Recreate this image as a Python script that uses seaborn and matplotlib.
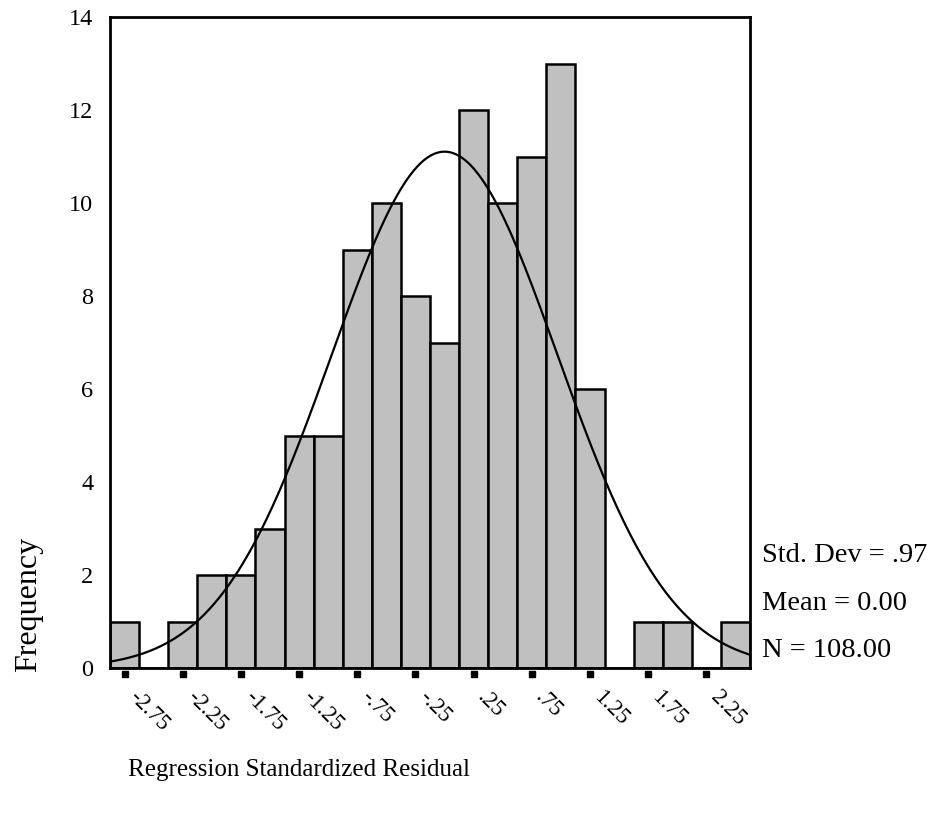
import numpy as np
import pandas as pd
import seaborn as sns
import matplotlib.pyplot as plt
import matplotlib.transforms as mtransforms

"""
histogram of regression standardized residuals (SPSS style)
"""
bin_centers = [-2.75, -2.5, -2.25, -2.0, -1.75, -1.5, -1.25, -1.0, -0.75, -0.5, -0.25,
               0.0, 0.25, 0.5, 0.75, 1.0, 1.25, 1.5, 1.75, 2.0, 2.25, 2.5]
counts = [1, 0, 1, 2, 2, 3, 5, 5, 9, 10, 8, 7, 12, 10, 11, 13, 6, 0, 1, 1, 0, 1]
tick_pos = [-2.75, -2.25, -1.75, -1.25, -0.75, -0.25, 0.25, 0.75, 1.25, 1.75, 2.25]
tick_labels = ['-2.75', '-2.25', '-1.75', '-1.25', '-.75', '-.25', '.25', '.75', '1.25', '1.75', '2.25']
y_ticks = [0, 2, 4, 6, 8, 10, 12, 14]

std_dev = 0.97
mean = 0.00
n_obs = 108
bin_width = 0.25

df = pd.DataFrame({'resid': bin_centers, 'freq': counts})

sns.set_style('white')
plt.rcParams['font.family'] = ['Liberation Serif', 'DejaVu Serif']
plt.rcParams['text.color'] = 'black'
plt.rcParams['xtick.color'] = 'black'
plt.rcParams['ytick.color'] = 'black'
plt.rcParams['axes.labelcolor'] = 'black'

fig = plt.figure(figsize=(9.33, 8.23), dpi=100)
ax = fig.add_axes([0.1179, 0.1883, 0.6860, 0.7910])

sns.histplot(data=df, x='resid', weights='freq', binwidth=bin_width,
             binrange=(-2.875, 2.625), color='#c0c0c0', edgecolor='black',
             linewidth=1.8, alpha=1, ax=ax)

# fitted normal curve
xs = np.linspace(-2.875, 2.625, 300)
ys = n_obs * bin_width * np.exp(-0.5 * ((xs - mean) / std_dev) ** 2) / (std_dev * np.sqrt(2 * np.pi))
sns.lineplot(x=xs, y=ys, color='black', linewidth=1.6, ax=ax)

ax.set_xlim(-2.875, 2.625)
ax.set_ylim(0, 14)
ax.set_yticks(y_ticks)
ax.set_yticklabels([str(v) for v in y_ticks], fontsize=17.5)
ax.tick_params(axis='y', direction='out', length=5, width=4, pad=7, color='black')
ax.set_xticks(tick_pos)
ax.set_xticklabels(tick_labels, fontsize=16.5, rotation=-45, ha='left', va='center',
                   rotation_mode='anchor')
ax.tick_params(axis='x', length=0, pad=19)
shift = mtransforms.ScaledTranslation(7 / 100, 0, fig.dpi_scale_trans)
for lbl in ax.get_xticklabels():
    lbl.set_transform(lbl.get_transform() + shift)
ax.set_xlabel('')
ax.set_ylabel('')

for side in ['left', 'right', 'top', 'bottom']:
    ax.spines[side].set_visible(True)
    ax.spines[side].set_color('black')
    ax.spines[side].set_linewidth(2)

# detached x tick marks
trans = mtransforms.blended_transform_factory(ax.transData, ax.transAxes)
ax.plot(tick_pos, [-0.0095] * len(tick_pos), ls='none', marker='s', markersize=4,
        color='black', transform=trans, clip_on=False)

# stats box text
ax.text(1.018, 0.173, 'Std. Dev = .97', transform=ax.transAxes, fontsize=20.5,
        va='center', ha='left')
ax.text(1.018, 0.099, 'Mean = 0.00', transform=ax.transAxes, fontsize=20.5,
        va='center', ha='left')
ax.text(1.018, 0.027, 'N = 108.00', transform=ax.transAxes, fontsize=20.5,
        va='center', ha='left')

fig.text(0.031, 1 - 672 / 823, 'Frequency', rotation=90, ha='center', va='bottom', fontsize=23)
fig.text(128 / 933, 1 - 770 / 823, 'Regression Standardized Residual', ha='left',
         va='center', fontsize=18)

fig.savefig('out.png', dpi=100)
